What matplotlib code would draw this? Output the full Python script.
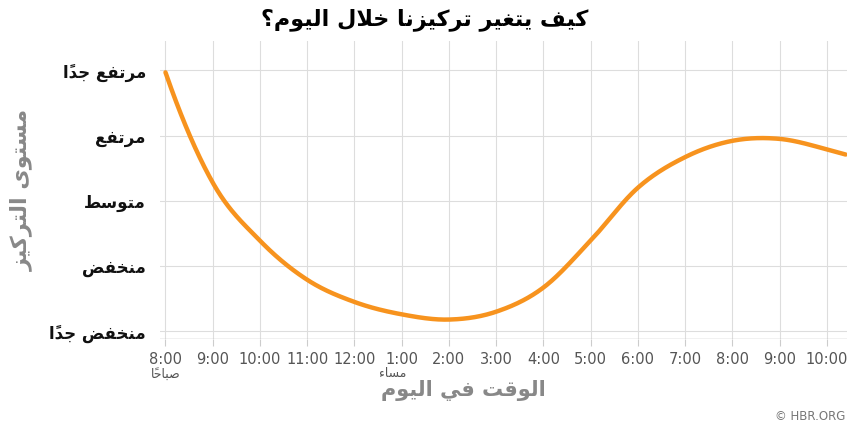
import numpy as np
import matplotlib
matplotlib.use("Agg")
import matplotlib.pyplot as plt

# ---------- data ----------
hours = [8, 9, 10, 11, 12, 13, 14, 15, 16, 17, 18, 19, 20, 21, 22, 22.4]
levels = [4.97, 3.28, 2.39, 1.79, 1.45, 1.26, 1.18, 1.30, 1.67, 2.39, 3.2, 3.67, 3.92, 3.95, 3.79, 3.71]
tick_hours = list(range(8, 23))
tick_labels = ["8:00", "9:00", "10:00", "11:00", "12:00", "1:00", "2:00", "3:00",
               "4:00", "5:00", "6:00", "7:00", "8:00", "9:00", "10:00"]
level_values = [1, 2, 3, 4, 5]
level_labels = ["منخفض جداً", "منخفض", "متوسط", "مرتفع", "مرتفع جداً"]
title = "كيف يتغير تركيزنا خلال اليوم؟"
ylabel = "مستوى التركيز"
xlabel = "الوقت في اليوم"
am_label = "صباحاً"
pm_label = "مساء"
credit = "© HBR.ORG"

# ---------- minimal Arabic shaping ----------
FORMS = {
    'ا': (0xFE8D, 0xFE8E, None, None), 'أ': (0xFE83, 0xFE84, None, None),
    'ب': (0xFE8F, 0xFE90, 0xFE91, 0xFE92), 'ت': (0xFE95, 0xFE96, 0xFE97, 0xFE98),
    'ج': (0xFE9D, 0xFE9E, 0xFE9F, 0xFEA0), 'ح': (0xFEA1, 0xFEA2, 0xFEA3, 0xFEA4),
    'خ': (0xFEA5, 0xFEA6, 0xFEA7, 0xFEA8), 'د': (0xFEA9, 0xFEAA, None, None),
    'ر': (0xFEAD, 0xFEAE, None, None), 'ز': (0xFEAF, 0xFEB0, None, None),
    'س': (0xFEB1, 0xFEB2, 0xFEB3, 0xFEB4), 'ص': (0xFEB9, 0xFEBA, 0xFEBB, 0xFEBC),
    'ض': (0xFEBD, 0xFEBE, 0xFEBF, 0xFEC0), 'ط': (0xFEC1, 0xFEC2, 0xFEC3, 0xFEC4),
    'ع': (0xFEC9, 0xFECA, 0xFECB, 0xFECC), 'غ': (0xFECD, 0xFECE, 0xFECF, 0xFED0),
    'ف': (0xFED1, 0xFED2, 0xFED3, 0xFED4), 'ق': (0xFED5, 0xFED6, 0xFED7, 0xFED8),
    'ك': (0xFED9, 0xFEDA, 0xFEDB, 0xFEDC), 'ل': (0xFEDD, 0xFEDE, 0xFEDF, 0xFEE0),
    'م': (0xFEE1, 0xFEE2, 0xFEE3, 0xFEE4), 'ن': (0xFEE5, 0xFEE6, 0xFEE7, 0xFEE8),
    'ه': (0xFEE9, 0xFEEA, 0xFEEB, 0xFEEC), 'و': (0xFEED, 0xFEEE, None, None),
    'ى': (0xFEEF, 0xFEF0, None, None), 'ي': (0xFEF1, 0xFEF2, 0xFEF3, 0xFEF4),
    'ء': (0xFE80, None, None, None), 'ة': (0xFE93, 0xFE94, None, None),
    'لا': (0xFEFB, 0xFEFC, None, None),
}
MARKS = set('\u064B\u064C\u064D\u064E\u064F\u0650\u0651\u0652')

def shape(s):
    cl = []
    i = 0
    while i < len(s):
        c = s[i]
        if c in MARKS and cl:
            cl[-1][1] += c
            i += 1
            continue
        if c == 'ل' and i + 1 < len(s) and s[i + 1] == 'ا':
            cl.append(['لا', ''])
            i += 2
            continue
        cl.append([c, ''])
        i += 1
    out = []
    for k, (b, m) in enumerate(cl):
        if b not in FORMS:
            out.append(b + m)
            continue
        f = FORMS[b]
        prev = cl[k - 1][0] if k > 0 else None
        nxt = cl[k + 1][0] if k + 1 < len(cl) else None
        jp = prev in FORMS and FORMS[prev][2] is not None
        jn = nxt in FORMS and f[2] is not None
        if jp and jn and f[3]:
            g = f[3]
        elif jp and f[1]:
            g = f[1]
        elif jn and f[2]:
            g = f[2]
        else:
            g = f[0]
        out.append(chr(g) + m)
    return ''.join(reversed(out))

# ---------- smooth rendering (monotone-ish cubic Hermite through the data) ----------
def smooth(xs, ys, n=40):
    xs = np.asarray(xs, float); ys = np.asarray(ys, float)
    m = np.zeros_like(ys)
    d = np.diff(ys) / np.diff(xs)
    m[1:-1] = (d[:-1] * np.diff(xs)[1:] + d[1:] * np.diff(xs)[:-1]) / (np.diff(xs)[1:] + np.diff(xs)[:-1])
    m[0] = 2 * d[0] - m[1]
    m[-1] = d[-1]
    ox, oy = [], []
    for i in range(len(xs) - 1):
        h = xs[i + 1] - xs[i]
        t = np.linspace(0, 1, n, endpoint=False)
        h00 = 2 * t**3 - 3 * t**2 + 1; h10 = t**3 - 2 * t**2 + t
        h01 = -2 * t**3 + 3 * t**2; h11 = t**3 - t**2
        ox.extend(xs[i] + t * h)
        oy.extend(h00 * ys[i] + h10 * h * m[i] + h01 * ys[i + 1] + h11 * h * m[i + 1])
    ox.append(xs[-1]); oy.append(ys[-1])
    return ox, oy

plt.rcParams['font.family'] = ['DejaVu Sans']
fig = plt.figure(figsize=(8.5, 4.32), dpi=100)
ax = fig.add_axes([0.188, 0.215, 0.808, 0.69])

sx, sy = smooth(hours, levels)
ax.plot(sx, sy, color='#F7931E', lw=3.2, solid_capstyle='round', zorder=3)

ax.set_xlim(7.88, 22.42)
ax.set_ylim(0.88, 5.45)
ax.set_xticks(tick_hours)
ax.set_xticklabels(tick_labels, fontsize=10.5, color='#555555')
ax.set_yticks(level_values)
ax.set_yticklabels([shape(l) for l in level_labels], fontsize=12, fontweight='bold', color='#111111')
ax.grid(True, color='#dddddd', lw=0.8)
ax.tick_params(axis='x', length=5, color='#cccccc', pad=4)
ax.tick_params(axis='y', length=0, pad=10)
for s in ax.spines.values():
    s.set_visible(False)
ax.axhline(0.88, color='#bbbbbb', lw=1)

fig.text(0.5, 0.955, shape(title), ha='center', va='center', fontsize=16, fontweight='bold')
fig.text(0.025, 0.56, shape(ylabel), rotation=90, ha='center', va='center',
         fontsize=16, fontweight='bold', color='#888888')
fig.text(0.545, 0.095, shape(xlabel), ha='center', va='center',
         fontsize=15, fontweight='bold', color='#888888')
xt = ax.get_xaxis_transform()
ax.text(8, -0.095, shape(am_label), transform=xt, ha='center', va='top', fontsize=9, color='#555555')
ax.text(13.1, -0.095, shape(pm_label), transform=xt, ha='right', va='top', fontsize=9, color='#555555')
fig.text(0.995, 0.02, credit, ha='right', va='bottom', fontsize=8.5, color='#777777')

fig.savefig('out.png', dpi=100)
